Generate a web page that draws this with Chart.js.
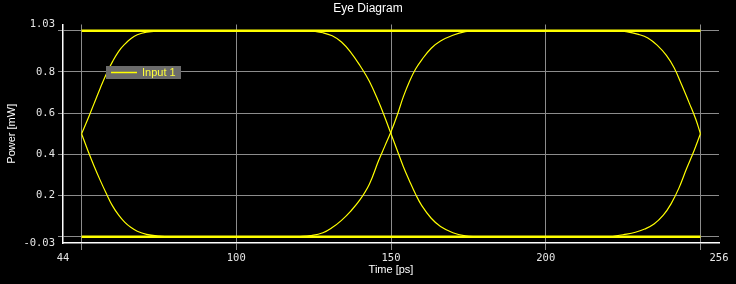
<!DOCTYPE html>
<html>
<head>
<meta charset="utf-8">
<script src="https://cdn.jsdelivr.net/npm/chart.js@4/dist/chart.umd.min.js"></script>
<style>
  html, body { margin: 0; padding: 0; background: #000; }
  #wrap { width: 736px; height: 284px; }
</style>
</head>
<body>
<div id="wrap"><canvas id="myChart" width="736" height="284"></canvas></div>
<script>
// ticks (edge values are labelled, grid lines sit at the inner values)
const xTickValues = [44, 50, 100, 150, 200, 250, 256];
const xTickLabels = ['44', '', '100', '150', '200', '', '256'];
const yTickValues = [-0.03, 0, 0.2, 0.4, 0.6, 0.8, 1, 1.03];
const yTickLabels = ['-0.03', '', '0.2', '0.4', '0.6', '0.8', '', '1.03'];

// rails
const railTime = [50, 250];
const railHigh = [1, 1];
const railLow = [0, 0];

// first bit: from the 0.5 crossing at 50
const riseATime = [50, 52, 54, 56, 58, 60, 62, 64, 66, 68, 71, 75, 78];
const riseAPower = [0.5, 0.57, 0.645, 0.72, 0.79, 0.85, 0.9, 0.935, 0.962, 0.98, 0.993, 0.999, 1];
const fallATime = [50, 52, 54, 56, 58, 60, 62, 64, 66, 68, 71, 75, 78];
const fallAPower = [0.5, 0.42, 0.345, 0.275, 0.21, 0.15, 0.105, 0.07, 0.045, 0.027, 0.012, 0.003, 0];

// crossing at 150
const fallBTime = [124, 128, 131, 134, 137, 140, 143, 146, 148, 150, 152, 154, 156, 158, 160, 163, 166, 170, 174, 178];
const fallBPower = [1, 0.99, 0.975, 0.945, 0.895, 0.83, 0.755, 0.655, 0.58, 0.5, 0.42, 0.34, 0.27, 0.205, 0.15, 0.09, 0.05, 0.02, 0.005, 0];
const riseBTime = [120, 124, 128, 131, 134, 137, 140, 143, 146, 148, 150, 152, 154, 156, 158, 160, 163, 166, 170, 174, 178];
const riseBPower = [0, 0.006, 0.02, 0.045, 0.08, 0.125, 0.18, 0.255, 0.37, 0.44, 0.51, 0.59, 0.68, 0.755, 0.815, 0.86, 0.915, 0.95, 0.978, 0.995, 1];

// last bit: into the 0.5 crossing at 250
const fallCTime = [222, 226, 230, 233, 236, 239, 241.5, 244, 246.5, 248.5, 250];
const fallCPower = [1, 0.995, 0.982, 0.965, 0.93, 0.88, 0.82, 0.735, 0.645, 0.57, 0.5];
const riseCTime = [221, 225, 229, 232, 235, 238, 240.5, 243, 245.5, 248, 250];
const riseCPower = [0, 0.01, 0.022, 0.038, 0.062, 0.105, 0.16, 0.235, 0.33, 0.42, 0.5];

function pts(t, v) {
    return t.map(function (x, i) { return { x: x, y: v[i] }; });
}

function trace(t, v, width) {
    return {
        label: 'Input 1',
        data: pts(t, v),
        borderColor: '#ffff00',
        borderWidth: width,
        pointRadius: 0,
        tension: 0.4,
        fill: false
    };
}

const legendBox = {
    id: 'legendBox',
    afterDatasetsDraw: function (chart) {
        const ctx = chart.ctx;
        const ds = chart.data.datasets[0];
        ctx.save();
        ctx.fillStyle = '#6b6b6b';
        ctx.fillRect(106, 66, 75, 13);
        ctx.strokeStyle = ds.borderColor;
        ctx.lineWidth = 1.5;
        ctx.beginPath();
        ctx.moveTo(111, 72.5);
        ctx.lineTo(137, 72.5);
        ctx.stroke();
        ctx.fillStyle = '#ffff3c';
        ctx.font = '11px "Liberation Sans", Arial, sans-serif';
        ctx.textBaseline = 'middle';
        ctx.fillText(ds.label, 142, 73);
        ctx.restore();
    }
};

const gridColor = '#8c8c8c';
const tickFont = { family: '"DejaVu Sans Mono", monospace', size: 10.5 };
const titleFont = { family: '"Liberation Sans", Arial, sans-serif', size: 11, weight: 'normal' };

new Chart(document.getElementById('myChart'), {
    type: 'line',
    data: {
        datasets: [
            trace(riseATime, riseAPower, 1.2),
            trace(fallATime, fallAPower, 1.2),
            trace(fallBTime, fallBPower, 1.2),
            trace(riseBTime, riseBPower, 1.2),
            trace(fallCTime, fallCPower, 1.2),
            trace(riseCTime, riseCPower, 1.2),
            trace(railTime, railHigh, 2.5),
            trace(railTime, railLow, 2.5)
        ]
    },
    options: {
        responsive: false,
        animation: false,
        layout: { padding: 0 },
        plugins: {
            legend: { display: false },
            tooltip: { enabled: false },
            title: {
                display: true,
                text: 'Eye Diagram',
                color: '#ffffff',
                font: { family: '"Liberation Sans", Arial, sans-serif', size: 12, weight: 'normal' },
                padding: { top: 1, bottom: 9.1 }
            }
        },
        scales: {
            x: {
                type: 'linear',
                min: 44,
                max: 256,
                afterBuildTicks: function (scale) {
                    scale.ticks = xTickValues.map(function (v) { return { value: v }; });
                },
                afterFit: function (scale) { scale.height = 41; },
                ticks: {
                    autoSkip: false,
                    maxRotation: 0,
                    color: '#e6e6e6',
                    font: tickFont,
                    padding: 2,
                    callback: function (value, index) { return xTickLabels[index]; }
                },
                grid: {
                    color: function (c) {
                        return (c.tick && (c.tick.value === 44 || c.tick.value === 256)) ? 'rgba(0,0,0,0)' : gridColor;
                    },
                    tickLength: 7
                },
                border: { color: '#ffffff', width: 1.5 },
                title: {
                    display: true,
                    text: 'Time [ps]',
                    color: '#ffffff',
                    font: titleFont,
                    padding: { top: 0, bottom: 7.4 }
                }
            },
            y: {
                type: 'linear',
                min: -0.03,
                max: 1.03,
                afterBuildTicks: function (scale) {
                    scale.ticks = yTickValues.map(function (v) { return { value: v }; });
                },
                afterFit: function (scale) { scale.width = 63; },
                ticks: {
                    autoSkip: false,
                    color: '#e6e6e6',
                    font: tickFont,
                    padding: 3,
                    callback: function (value, index) { return yTickLabels[index]; }
                },
                grid: {
                    color: function (c) {
                        return (c.tick && (c.tick.value === -0.03 || c.tick.value === 1.03)) ? 'rgba(0,0,0,0)' : gridColor;
                    },
                    tickLength: 5
                },
                border: { color: '#ffffff', width: 1.5 },
                title: {
                    display: true,
                    text: 'Power [mW]',
                    color: '#ffffff',
                    font: titleFont,
                    padding: { top: 5.4, bottom: 0 }
                }
            },
            yRight: {
                type: 'linear',
                position: 'right',
                display: true,
                afterFit: function (scale) { scale.width = 17; },
                ticks: { display: false },
                grid: { display: false },
                border: { display: false }
            }
        }
    },
    plugins: [legendBox]
});
</script>
</body>
</html>
